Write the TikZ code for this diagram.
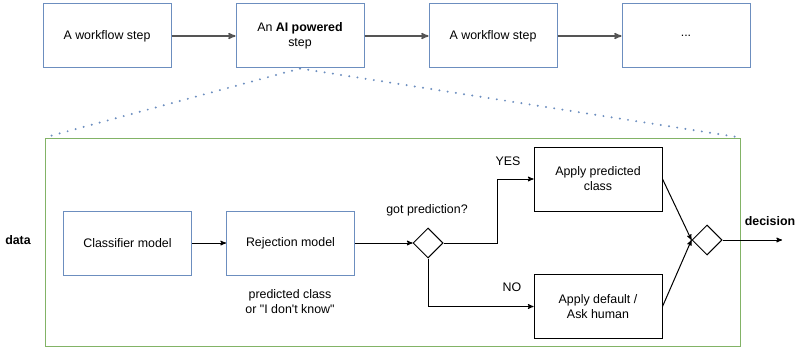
\documentclass[tikz,border=0pt]{standalone}
\usepackage{fontspec}
\setmainfont{Liberation Sans}[Ligatures=TeXOff]
\usetikzlibrary{positioning}
\usetikzlibrary{calc}
\usetikzlibrary{arrows}
\usetikzlibrary{shapes}

\definecolor{stepblue}{HTML}{6C8EBF}
\definecolor{framegreen}{HTML}{82B366}
\definecolor{flowgray}{HTML}{555555}

\begin{document}
\begin{tikzpicture} [
    x=1pt, y=-1pt,              % pixel-like units, y going down
    node distance=10mm and 40mm, % Global setup of box spacing
    font=\fontsize{12.4}{15}\selectfont,
    ]
% -------------------------------------------------
\tikzset{
  base/.style={draw, align=center, inner sep=2pt},
  rect/.style={base, rectangle, minimum width=128pt, minimum height=64pt, line width=1pt},
  wstep/.style={rect, draw=stepblue, on grid},
  mstep/.style={rect, draw=stepblue},
  astep/.style={rect, draw=black},
  gate/.style={base, diamond, draw=black, line width=1pt, minimum width=30pt, minimum height=30pt, inner sep=0pt},
  flow/.style={draw, line width=1.5pt, color=flowgray, -stealth'},
  line/.style={draw, line width=1pt, -stealth'},
  zoomline/.style={stepblue, line width=2.2pt, line cap=round, dash pattern=on 0pt off 8.3pt},
  lbl/.style={align=center},
  blbl/.style={lbl, font=\fontsize{12.4}{15}\selectfont\bfseries}
}

    \useasboundingbox (0,0) rectangle (797,350);

    \node [wstep] at (107,36) (ws1) {A workflow step};
    \node [wstep, right=193pt of ws1] (ai) {An \textbf{AI powered}\\step};
    \node [wstep, right=193pt of ai] (ws2) {A workflow step};
    \node [wstep, right=193pt of ws2] (ws3) {...};

    \node [draw=framegreen, line width=1pt, minimum width=695pt, minimum height=208pt] at (392.5,242) (frm) {};   % zoomed frame

    \node [mstep] at (127.5,243) (cls) {Classifier model};
    \node [mstep, right=34pt of cls] (rej) {Rejection model};
    \node [gate] at (428,243) (chk) {};
    \node [astep] at (598,179) (apc) {Apply predicted\\class};
    \node [astep] at (598,306.5) (adh) {Apply default /\\Ask human};
    \node [gate] at (707,240) (mrg) {};
    \coordinate (dec) at (782,240);

    \node [blbl] at (18,240) (dat) {data};
    \node [blbl] at (770,221) (dcl) {decision};
    \node [lbl] at (290,301.5) (prd) {predicted class\\or "I don't know"};
    \node [lbl] at (427,210) (gpr) {got prediction?};
    \node [lbl] at (508,161) (yes) {YES};
    \node [lbl] at (512,287) (no) {NO};

    \draw[zoomline] (ai.south) -- (frm.north west);   % left zoom edge
    \draw[zoomline] (ai.south) -- (frm.north east);   % right zoom edge

    \path [flow] (ws1) -- (ai);
    \path [flow] (ai) -- (ws2);
    \path [flow] (ws2) -- (ws3);

    \path [line] (cls) -- (rej);
    \path [line] (rej.east) -- (chk.west);
    \path [line] (chk.east) -- ++(54,0) |- (apc.west);    % YES branch
    \path [line] (chk.south) |- (adh.west);               % NO branch
    \path [line] (apc.east) -- (mrg.west);
    \path [line] (adh.east) -- (mrg.west);
    \path [line] (mrg.east) -- (dec);

\end{tikzpicture}
\end{document}
